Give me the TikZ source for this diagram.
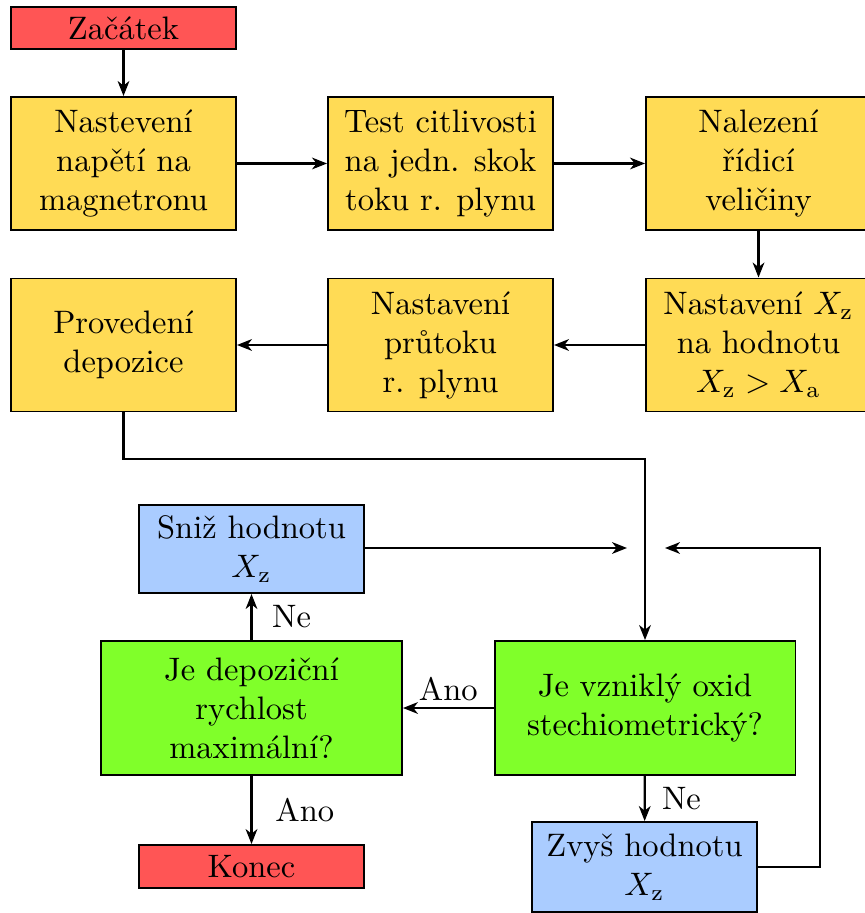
\documentclass[tikz,border=0pt]{standalone}
\usepackage{fontspec}
\usetikzlibrary{arrows.meta}
\definecolor{cred}{RGB}{255,85,85}
\definecolor{cyel}{RGB}{255,219,85}
\definecolor{cblue}{RGB}{170,204,255}
\definecolor{cgreen}{RGB}{128,255,42}
\tikzset{
  base/.style={draw=black, line width=0.6pt, align=center, inner sep=0pt, minimum width=69.23pt},
  term/.style={base, fill=cred, minimum height=13.2pt},
  proc/.style={base, fill=cyel, minimum height=40.92pt},
  adj/.style={base, fill=cblue, minimum height=27.4pt},
  ques/.style={base, fill=cgreen, minimum width=92.6pt, minimum height=41.2pt},
  conn/.style={line width=0.7pt, -{Stealth[length=4.6pt, width=3.6pt, inset=1.4pt]}},
  lbl/.style={inner sep=0pt}
}
\begin{document}
\begin{tikzpicture}[x=0.3077pt, y=-0.3077pt]
\useasboundingbox (0,0) rectangle (864,913);
\node[term] (start) at (123.5,28) {Začátek};
\node[proc] (a1) at (123.5,163.5) {Nastevení\\napětí na\\magnetronu};
\node[proc] (a2) at (440.5,163.5) {Test citlivosti\\na jedn. skok\\toku r. plynu};
\node[proc] (a3) at (758.5,163.5) {Nalezení\\řídicí\\veličiny};
\node[proc] (b3) at (758.5,345) {Nastavení $X_\mathrm{z}$\\na hodnotu\\$X_\mathrm{z}>X_\mathrm{a}$};
\node[proc] (b2) at (440.5,345) {Nastavení\\průtoku\\r. plynu};
\node[proc] (b1) at (123.5,345) {Provedení\\depozice};
\node[adj, minimum height=27.1pt] (snz) at (251.5,549) {Sniž hodnotu\\$X_\mathrm{z}$};
\node[ques] (q2) at (251.5,708) {Je depoziční\\rychlost\\maximální?};
\node[ques] (q1) at (645,708) {Je vzniklý oxid\\stechiometrický?};
\node[term] (konec) at (251.5,866.5) {Konec};
\node[adj, minimum height=27.7pt] (zvys) at (644.5,867) {Zvyš hodnotu\\$X_\mathrm{z}$};
\coordinate (j1) at (627,548);
\coordinate (j2) at (665,548);
\coordinate (r1) at (820,867);
\coordinate (m1) at (123.5,459);

\draw[conn] (start) -- (a1);
\draw[conn] (a1) -- (a2);
\draw[conn] (a2) -- (a3);
\draw[conn] (a3) -- (b3);
\draw[conn] (b3) -- (b2);
\draw[conn] (b2) -- (b1);
\draw[conn] (b1.south) -- (m1) -| (q1.north);
\draw[conn] (snz.east |- j1) -- (j1);
\draw[conn] (zvys.east) -- (r1) |- (j2);
\draw[conn] (q1) -- node[lbl, midway, above=2pt] {Ano} (q2);
\draw[conn] (q2) -- node[lbl, midway, right=6pt] {Ne} (snz);
\draw[conn] (q2) -- node[lbl, midway, right=7pt] {Ano} (konec);
\draw[conn] (q1) -- node[lbl, midway, right=5pt] {Ne} (zvys);
\end{tikzpicture}
\end{document}
